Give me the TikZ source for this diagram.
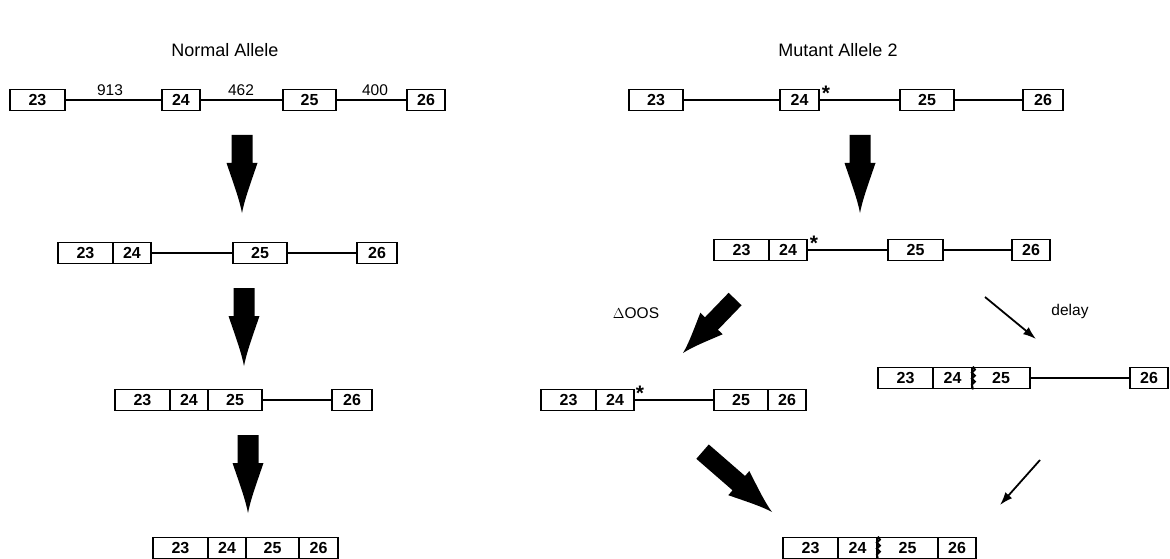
\documentclass[tikz,border=0pt]{standalone}
\usepackage{fontspec}
\setmainfont{Liberation Sans}
\usetikzlibrary{arrows.meta}
\newcommand{\fatarr}[7]{%
 \begin{scope}[shift={(#1,#2)},rotate=#3]
 \fill (-#5,-#4) -- (#5,-#4) -- (#5,-#7) -- (#6,-#7) .. controls ({0.5*#6},{-0.55*#7}) and ({0.15*#6},{-0.25*#7}) .. (0,0) .. controls ({-0.15*#6},{-0.25*#7}) and ({-0.5*#6},{-0.55*#7}) .. (-#6,-#7) -- (-#5,-#7) -- cycle;
 \end{scope}}
\tikzset{
 ex/.style={draw, line width=1.8pt, minimum height=21pt, inner sep=0pt, font=\fontsize{16}{16}\selectfont\bfseries},
 intron/.style={line width=1.4pt},
 lbl/.style={font=\fontsize{15.5}{15.5}\selectfont, inner sep=0pt},
 ttl/.style={font=\fontsize{18}{18}\selectfont, inner sep=0pt},
 star/.style={font=\fontsize{21}{21}\selectfont\bfseries, inner sep=0pt},
 thin/.style={line width=1.8pt, -{Latex[length=13pt,width=9pt]}},
 jag/.style={line width=2pt}
}
\begin{document}
\begin{tikzpicture}[x=1pt,y=-1pt]
\useasboundingbox (0,0) rectangle (1170,559);
% titles
\node[ttl] (t1) at (225,50) {Normal Allele};
\node[ttl] (t2) at (838,50) {Mutant Allele 2};
% row 1 left
\node[ex, minimum width=55pt] (a1) at (37.5,100) {23};
\node[ex, minimum width=38pt] (a2) at (181,100) {24};
\node[ex, minimum width=53pt] (a3) at (309.5,100) {25};
\node[ex, minimum width=38pt] (a4) at (426,100) {26};
\draw[intron] (a1.east) -- (a2.west) (a2.east) -- (a3.west) (a3.east) -- (a4.west);
\node[lbl] (n1) at (110,90) {913};
\node[lbl] (n2) at (241,90) {462};
\node[lbl] (n3) at (375,90) {400};
% row 2 left
\node[ex, minimum width=55pt] (b1) at (85.5,253) {23};
\node[ex, minimum width=38pt] (b2) at (132,253) {24};
\node[ex, minimum width=54pt] (b3) at (260,253) {25};
\node[ex, minimum width=40pt] (b4) at (377,253) {26};
\draw[intron] (b2.east) -- (b3.west) (b3.east) -- (b4.west);
% row 3 left
\node[ex, minimum width=55pt] (c1) at (142.5,400) {23};
\node[ex, minimum width=38pt] (c2) at (189,400) {24};
\node[ex, minimum width=54pt] (c3) at (235,400) {25};
\node[ex, minimum width=40pt] (c4) at (352,400) {26};
\draw[intron] (c3.east) -- (c4.west);
% row 4 left
\node[ex, minimum width=55pt] (d1) at (180.5,548) {23};
\node[ex, minimum width=38pt] (d2) at (227,548) {24};
\node[ex, minimum width=53pt] (d3) at (272.5,548) {25};
\node[ex, minimum width=39pt] (d4) at (318.5,548) {26};
% left fat arrows
\fatarr{242}{213}{0}{78}{10.5}{15.5}{50}
\fatarr{244}{366}{0}{78}{10.5}{15.5}{50}
\fatarr{248}{513}{0}{78}{10.5}{15.5}{50}
% row 1 right
\node[ex, minimum width=54pt] (e1) at (656,100) {23};
\node[ex, minimum width=39pt] (e2) at (799.5,100) {24};
\node[ex, minimum width=54pt] (e3) at (927,100) {25};
\node[ex, minimum width=40pt] (e4) at (1043,100) {26};
\draw[intron] (e1.east) -- (e2.west) (e2.east) -- (e3.west) (e3.east) -- (e4.west);
\node[star] (s1) at (826,93) {*};
% row 2 right
\node[ex, minimum width=55pt] (f1) at (741.5,250) {23};
\node[ex, minimum width=38pt] (f2) at (788,250) {24};
\node[ex, minimum width=55pt] (f3) at (915.5,250) {25};
\node[ex, minimum width=38pt] (f4) at (1031,250) {26};
\draw[intron] (f2.east) -- (f3.west) (f3.east) -- (f4.west);
\node[star] (s2) at (814,243) {*};
\fatarr{860}{213}{0}{78}{10.5}{15.5}{50}
% row 3 middle
\node[ex, minimum width=55pt] (g1) at (568.5,400) {23};
\node[ex, minimum width=38pt] (g2) at (615,400) {24};
\node[ex, minimum width=54pt] (g3) at (741,400) {25};
\node[ex, minimum width=38pt] (g4) at (787,400) {26};
\draw[intron] (g2.east) -- (g3.west);
\node[star] (s3) at (640,393) {*};
% row 3 right
\node[ex, minimum width=55pt] (h1) at (905.5,378) {23};
\node[ex, minimum width=39pt] (h2) at (952.5,378) {24};
\node[ex, minimum width=58pt] (h3) at (1001,378) {25};
\node[ex, minimum width=38pt] (h4) at (1149,378) {26};
\draw[intron] (h3.east) -- (h4.west);
\draw[jag] (h2.north east) -- ++(2,3) -- ++(-3,3) -- ++(3,3) -- ++(-3,3) -- ++(3,3) -- ++(-3,3) -- (h2.south east);
% row 4 right
\node[ex, minimum width=55pt] (k1) at (810.5,548) {23};
\node[ex, minimum width=39pt] (k2) at (857.5,548) {24};
\node[ex, minimum width=61pt] (k3) at (907.5,548) {25};
\node[ex, minimum width=38pt] (k4) at (957,548) {26};
\draw[jag] (k2.north east) -- ++(2,3) -- ++(-3,3) -- ++(3,3) -- ++(-3,3) -- ++(3,3) -- ++(-3,3) -- (k2.south east);
% right diagonal arrows
\fatarr{683}{353}{-44}{75}{9}{15.5}{41}
\fatarr{772}{512}{49}{92}{9.5}{16}{44}
\node[lbl] (oos) at (636,313) {$\Delta$OOS};
\node[lbl] (dl) at (1070,311) {delay};
\coordinate (p1) at (985,297);
\coordinate (p2) at (1036,339);
\draw[thin] (p1) -- (p2);
\coordinate (q1) at (1040,460);
\coordinate (q2) at (1000,505);
\draw[thin] (q1) -- (q2);
\end{tikzpicture}
\end{document}
